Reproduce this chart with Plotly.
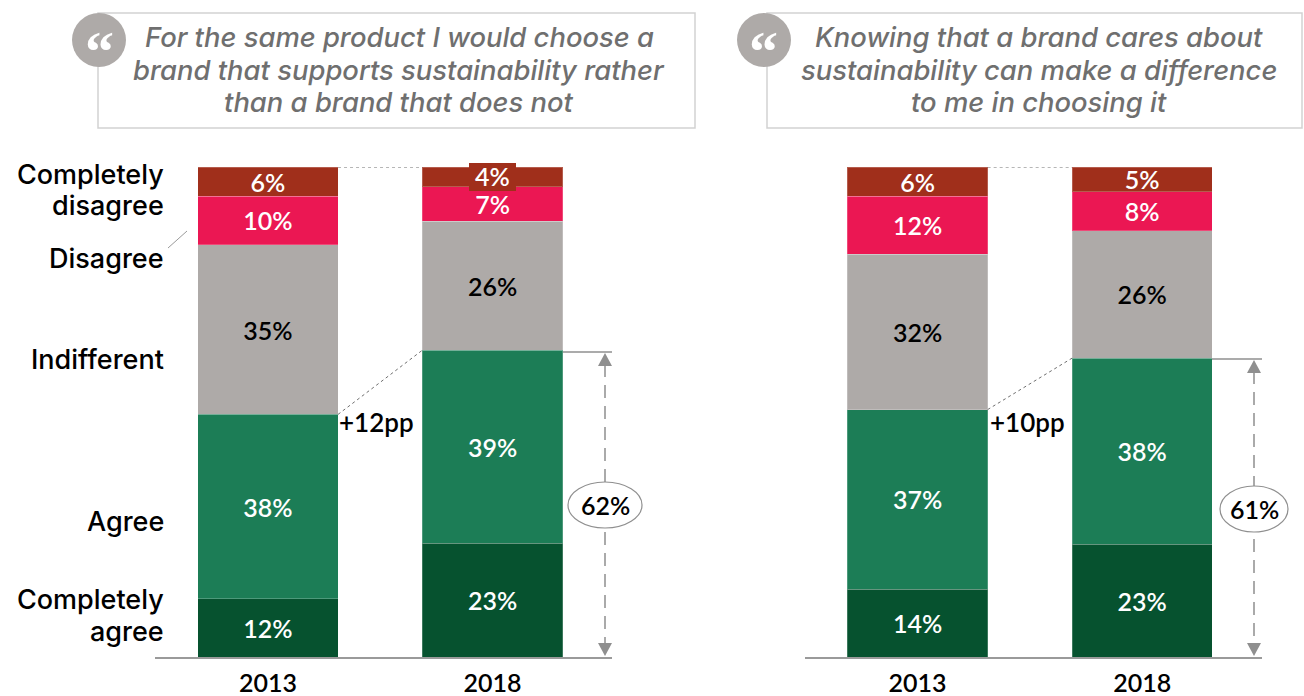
import plotly.graph_objects as go

# Survey answers per panel, bottom of the stack first
years = ["2013", "2018"]
answers = ["Completely agree", "Agree", "Indifferent", "Disagree", "Completely disagree"]
colors = ["#06522f", "#1c7d56", "#aeaaa8", "#eb1753", "#a02f1b"]
label_colors = ["white", "white", "black", "white", "white"]

left_2013 = [12, 38, 35, 10, 6]
left_2018 = [23, 39, 26, 7, 4]
right_2013 = [14, 37, 32, 12, 6]
right_2018 = [23, 38, 26, 8, 5]

left_total = 62
right_total = 61
left_gain = "+12pp"
right_gain = "+10pp"

left_quote = [
    "For the same product I would choose a",
    "brand that supports sustainability rather",
    "than a brand that does not",
]
right_quote = [
    "Knowing that a brand cares about",
    "sustainability can make a difference",
    "to me in choosing it",
]

row_labels = [
    ("Completely", 174),
    ("disagree", 206),
    ("Disagree", 258),
    ("Indifferent", 359),
    ("Agree", 521),
    ("Completely", 599),
    ("agree", 631),
]

W, H = 1304, 696
NUMBER_FONT = "Lato"
WORD_FONT = "Inter"
BAR_WIDTH = 0.624
GREY = "#8f8f8f"


def px(x):
    return x / W


def py(y):
    return 1 - y / H


def top_of_agree(values):
    # Stacks are normalised, so the boundary is a share of the column total
    return sum(values[:2]) / sum(values) * 100


fig = go.Figure()

for xaxis, yaxis, first, second in [
    ("x", "y", left_2013, left_2018),
    ("x2", "y2", right_2013, right_2018),
]:
    for i, answer in enumerate(answers):
        pair = [first[i], second[i]]
        # The 4% label gets its own backed annotation further down
        texts = ["" if v == 4 else f"{v}%" for v in pair]
        fig.add_trace(go.Bar(
            x=years,
            y=pair,
            name=answer,
            xaxis=xaxis,
            yaxis=yaxis,
            width=BAR_WIDTH,
            marker=dict(color=colors[i], line=dict(color="rgba(255,255,255,0.22)", width=1)),
            text=texts,
            textposition="inside",
            insidetextanchor="middle",
            textangle=0,
            constraintext="none",
            textfont=dict(family=NUMBER_FONT, size=25, color=label_colors[i], weight=600),
            showlegend=False,
            cliponaxis=False,
        ))

shapes = []
annotations = []


def paper_line(x0, y0, x1, y1, color=GREY, width=1.5, dash="solid"):
    shapes.append(dict(type="line", xref="paper", yref="paper",
                       x0=px(x0), y0=py(y0), x1=px(x1), y1=py(y1),
                       line=dict(color=color, width=width, dash=dash)))


def text_at(x, y, text, size=24, color="black", anchor="center", family=NUMBER_FONT,
            weight=600, style="normal", **extra):
    annotations.append(dict(xref="paper", yref="paper", x=px(x), y=py(y), text=text,
                            showarrow=False, xanchor=anchor, yanchor="middle",
                            font=dict(family=family, size=size, color=color,
                                      weight=weight, style=style),
                            **extra))


def quote_box(x0, x1, bubble_x, lines, text_x):
    shapes.append(dict(type="rect", xref="paper", yref="paper",
                       x0=px(x0), x1=px(x1), y0=py(128), y1=py(13),
                       line=dict(color="#d2d2d2", width=1.5), fillcolor="white"))
    shapes.append(dict(type="circle", xref="paper", yref="paper",
                       x0=px(bubble_x - 27), x1=px(bubble_x + 27), y0=py(67), y1=py(13),
                       line=dict(width=0), fillcolor="#aeaaa8"))
    text_at(bubble_x, 52, "\u201c", size=58, color="white", family="Liberation Serif")
    for line, y in zip(lines, (37, 70, 102)):
        text_at(text_x, y, line, size=27.4, color="#6f6f6f", family=WORD_FONT,
                weight=500, style="italic")


def total_bracket(x, bar_right, line_end, top_y, total, cy, rx):
    paper_line(bar_right, top_y, line_end, top_y, width=1.5)
    paper_line(x, top_y + 12, x, 645, width=1.5, dash="13px,8px")
    for tip, base in [(top_y + 1, top_y + 14), (656, 643)]:
        shapes.append(dict(type="path", xref="paper", yref="paper",
                           path=f"M {px(x)} {py(tip)} L {px(x - 7)} {py(base)} L {px(x + 7)} {py(base)} Z",
                           line=dict(width=0), fillcolor=GREY))
    shapes.append(dict(type="circle", xref="paper", yref="paper",
                       x0=px(x - rx), x1=px(x + rx), y0=py(cy + 23), y1=py(cy - 23),
                       line=dict(color=GREY, width=1.2), fillcolor="white"))
    text_at(x, cy, f"{total}%", size=25)


def connectors(xref, yref, first, second):
    left_edge = BAR_WIDTH / 2
    right_edge = 1 - BAR_WIDTH / 2
    dotted = dict(color="#6f6f6f", width=1, dash="dot")
    shapes.append(dict(type="line", xref=xref, yref=yref, x0=left_edge, x1=right_edge,
                       y0=100, y1=100, line=dotted))
    shapes.append(dict(type="line", xref=xref, yref=yref, x0=left_edge, x1=right_edge,
                       y0=top_of_agree(first), y1=top_of_agree(second), line=dotted))


quote_box(98, 695, 99, left_quote, 399)
quote_box(767, 1302, 764, right_quote, 1039)

connectors("x", "y", left_2013, left_2018)
connectors("x2", "y2", right_2013, right_2018)

total_bracket(605, 563, 612, 352, left_total, 505, 37)
total_bracket(1254, 1212, 1262, 359, right_total, 509, 34)

text_at(376, 422, left_gain, size=26)
text_at(1027, 422, right_gain, size=26)

for label, y in row_labels:
    text_at(166, y, label, size=27, anchor="right", family=WORD_FONT, weight=500)
paper_line(168, 248, 187, 231, color="#9a9a9a", width=1)

# Value that sticks out of its thin segment, on a block of the segment colour
shapes.append(dict(type="rect", xref="paper", yref="paper", layer="above",
                   x0=px(469), x1=px(516), y0=py(191), y1=py(163),
                   line=dict(width=0), fillcolor=colors[4]))
text_at(492.5, 176, f"{left_2018[4]}%", size=25, color="white")

axis_x = dict(type="category", categoryorder="array", categoryarray=years, showgrid=False,
              showline=True, linecolor="#9a9a9a", linewidth=2, ticks="", zeroline=False,
              ticklabelstandoff=3, tickfont=dict(family=NUMBER_FONT, size=25, color="black", weight=600))
axis_y = dict(range=[0, 100], domain=[1 - 657 / H, 1 - 167 / H], visible=False, fixedrange=True)

fig.update_layout(
    width=W,
    height=H,
    margin=dict(l=0, r=0, t=0, b=0),
    paper_bgcolor="white",
    plot_bgcolor="rgba(0,0,0,0)",
    barmode="stack",
    barnorm="percent",
    showlegend=False,
    xaxis=dict(axis_x, domain=[px(155), px(612)], range=[-0.503, 1.532]),
    xaxis2=dict(axis_x, domain=[px(805), px(1262)], range=[-0.501, 1.533]),
    yaxis=dict(axis_y, anchor="x"),
    yaxis2=dict(axis_y, anchor="x2"),
    shapes=shapes,
    annotations=annotations,
)

fig.write_html("out.html")
